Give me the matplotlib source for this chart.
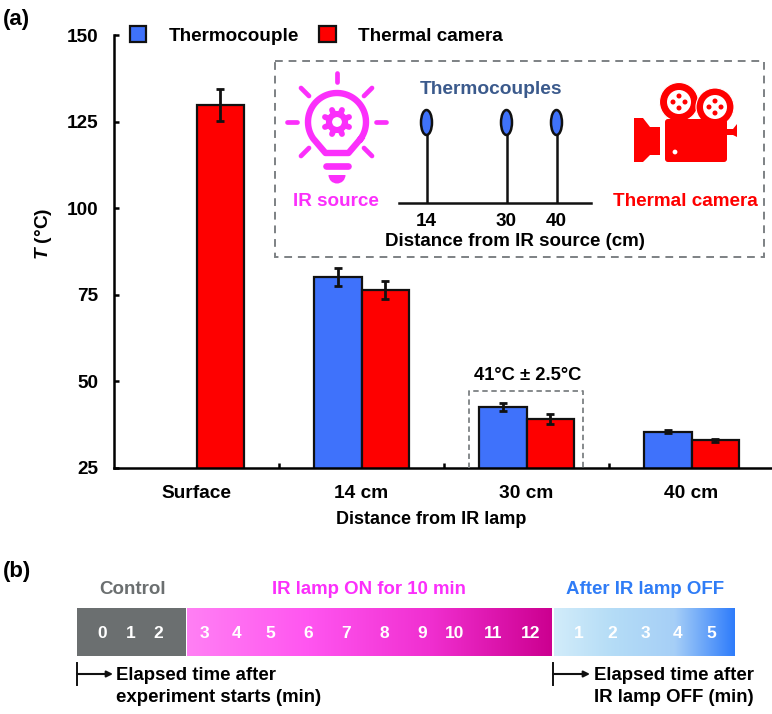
import numpy as np
import matplotlib
matplotlib.use("Agg")
import matplotlib.pyplot as plt
from matplotlib.colors import LinearSegmentedColormap
from matplotlib.patches import Circle, Ellipse, FancyBboxPatch, Polygon, Rectangle, Wedge

plt.rcParams['font.family'] = ['Liberation Sans', 'DejaVu Sans']
plt.rcParams['font.weight'] = 'bold'
plt.rcParams['mathtext.fontset'] = 'custom'
plt.rcParams['mathtext.it'] = 'Liberation Sans:italic:bold'
plt.rcParams['mathtext.rm'] = 'Liberation Sans:bold'

W, H = 772, 714

# bar chart data
categories = ['Surface', '14 cm', '30 cm', '40 cm']
thermocouple = [np.nan, 80.0, 42.7, 35.5]
thermocouple_err = [0, 2.6, 1.2, 0.5]
camera = [129.8, 76.4, 39.1, 33.0]
camera_err = [4.6, 2.6, 1.4, 0.5]
y_ticks = [25, 50, 75, 100, 125, 150]

# inset data
probe_cm = [14, 30, 40]

# timeline data
control_min = [0, 1, 2]
control_x = [102, 130.5, 158.5]
lamp_min = [3, 4, 5, 6, 7, 8, 9, 10, 11, 12]
lamp_x = [204, 237, 270, 308, 346, 384, 422, 455, 493, 531]
after_min = [1, 2, 3, 4, 5]
after_x = [579, 612, 645, 678, 711]

BLUE = '#3f72fb'
RED = '#fe0000'
PINK = '#fb2ffb'
GRAY = '#6b6f70'
DASH = '#7d8184'
INK = '#111111'


def px_axes(x0, y0, x1, y1):
    # axes placed with pixel edges, y measured from the top of the image
    return fig.add_axes([x0 / W, 1 - y1 / H, (x1 - x0) / W, (y1 - y0) / H])


fig = plt.figure(figsize=(W / 100, H / 100), dpi=100)

#############
# Bar chart #
#############
ax = px_axes(114, 35, 774, 468)
x = np.arange(len(categories))
width = 0.288
err_style = dict(ecolor=INK, elinewidth=2.0, capsize=3.0, capthick=2.0)
ax.bar(x - width / 2, thermocouple, width, yerr=thermocouple_err, color=BLUE,
       edgecolor=INK, linewidth=1.6, label='Thermocouple', error_kw=err_style)
ax.bar(x + width / 2, camera, width, yerr=camera_err, color=RED,
       edgecolor=INK, linewidth=1.6, label='Thermal camera', error_kw=err_style)
ax.set_xlim(-0.5, 3.5)
ax.set_ylim(25, 150)
ax.set_yticks(y_ticks)
ax.set_xticks(x[:-1] + 0.5)
ax.set_xticklabels([])
ax.set_xticks(x, categories, minor=True)
ax.tick_params(axis='x', which='minor', length=0, pad=12.5, labelsize=13.8)
ax.tick_params(axis='x', which='major', direction='in', length=3.6, width=1.8)
ax.tick_params(axis='y', direction='in', length=3.6, width=1.8, pad=11, labelsize=13.7)
for side in ('top', 'right'):
    ax.spines[side].set_visible(False)
for side in ('left', 'bottom'):
    ax.spines[side].set_linewidth(1.8)
ax.patch.set_alpha(0)
ax.legend(loc='lower left', bbox_to_anchor=(16 / 660, 0.978), ncol=2, frameon=False,
          fontsize=13.6, handlelength=0.86, handleheight=0.86, handletextpad=1.17,
          columnspacing=1.1, borderpad=0, borderaxespad=0)

# overlay in image pixels for annotations, inset and timeline
ov = fig.add_axes([0, 0, 1, 1], zorder=5)
ov.set_xlim(0, W)
ov.set_ylim(H, 0)
ov.axis('off')
ov.patch.set_alpha(0)

ov.text(3, 20, '(a)', fontsize=16, va='center')
ov.text(3, 572, '(b)', fontsize=16, va='center')
ov.text(44, 234, r'$T$ (°C)', fontsize=13.8, rotation=90, ha='center', va='center')
ov.text(431, 520, 'Distance from IR lamp', fontsize=13, ha='center', va='center')

# range box at 30 cm
ov.plot([469, 469, 583, 583], [468, 391, 391, 468], color=DASH, lw=1.3, ls=(0, (3, 2)))
ov.text(528, 375, '41°C ± 2.5°C', fontsize=13.2, ha='center', va='center')

# inset frame
ov.add_patch(Rectangle((275, 61), 489, 196, fill=False, ec=DASH, lw=1.4, ls=(0, (4, 3))))

# IR source icon
ray_segments = [((337, 73), (337, 82)), ((287, 122), (297, 122)), ((376, 122), (386, 122)),
                ((301, 88), (309, 96)), ((372, 88), (364, 96)),
                ((301, 156), (309, 148)), ((372, 156), (364, 148))]
for a, b in ray_segments:
    ov.plot([a[0], b[0]], [a[1], b[1]], color=PINK, lw=3.4, solid_capstyle='round')
theta = np.radians(np.linspace(-35, 215, 60))
bulb_x = np.r_[337 + 29 * np.cos(theta), 325.5, 348.5, 337 + 29 * np.cos(theta[0])]
bulb_y = np.r_[122 - 29 * np.sin(theta), 153, 153, 122 - 29 * np.sin(theta[0])]
ov.plot(bulb_x, bulb_y, color=PINK, lw=4.6, solid_joinstyle='round')
ov.add_patch(Circle((337, 122), 8, fc='none', ec=PINK, lw=4.4))
for ang in np.arange(0, 360, 45):
    ca, sa = np.cos(np.radians(ang + 22.5)), np.sin(np.radians(ang + 22.5))
    ov.plot([337 + 9 * ca, 337 + 13 * ca], [122 + 9 * sa, 122 + 13 * sa],
            color=PINK, lw=4.2, solid_capstyle='round')
ov.plot([326, 348], [166, 166], color=PINK, lw=4.8, solid_capstyle='round')
ov.add_patch(Wedge((337, 175), 8.5, 0, 180, fc=PINK, ec='none'))
ov.text(336, 202, 'IR source', color=PINK, fontsize=13.6, ha='center', va='center')

# thermocouple positions go through their own small axes
tc = px_axes(399, 99, 591, 203)
tc.set_xlim(14 - 27.5 / 5.0, 14 + 164.5 / 5.0)
tc.set_ylim(0, 1)
tc.patch.set_alpha(0)
tc.set_zorder(6)
for side in ('top', 'left', 'right'):
    tc.spines[side].set_visible(False)
tc.spines['bottom'].set_linewidth(1.8)
tc.spines['bottom'].set_color(INK)
tc.set_yticks([])
tc.set_xticks(probe_cm, [str(v) for v in probe_cm])
tc.tick_params(axis='x', length=0, pad=7, labelsize=13.6)
tc.vlines(probe_cm, 0, 0.66, color=INK, lw=1.8)
for cm in probe_cm:
    tc.add_patch(Ellipse((cm, 0.774), 11 / 5.0, 25 / 104, fc=BLUE, ec=INK, lw=1.8))
ov.text(491, 90, 'Thermocouples', color='#3b5a8c', fontsize=13.8, ha='center', va='center')
ov.text(515, 242, 'Distance from IR source (cm)', fontsize=13.5, ha='center', va='center')

# camera icon
for cx, cy, r in [(679, 102, 19.5), (715, 107, 19)]:
    ov.add_patch(Circle((cx, cy), r, fc=RED, ec='white', lw=0.8))
    ov.add_patch(Circle((cx, cy), 12, fc='white', ec='none'))
    for dx, dy in [(0, -6), (0, 6), (-6, 0), (6, 0)]:
        ov.add_patch(Circle((cx + dx, cy + dy), 2.5, fc=RED, ec='none'))
ov.add_patch(FancyBboxPatch((668, 122), 56, 37, boxstyle='round,pad=3', fc=RED, ec='none'))
ov.add_patch(Polygon([(634, 118), (643, 118), (650, 127), (660, 127), (660, 155), (650, 155),
                      (643, 162), (634, 162)], fc=RED, ec='none'))
ov.add_patch(Polygon([(726, 129), (733, 129), (737, 124), (737, 137), (733, 135), (726, 135)],
                     fc=RED, ec='none'))
ov.add_patch(Circle((675, 152), 2.4, fc='white', ec='none'))
ov.text(685, 202, 'Thermal camera', color=RED, fontsize=13.6, ha='center', va='center')

############
# Timeline #
############
ov.add_patch(Rectangle((77, 608), 109, 48, fc=GRAY, ec='none'))
lamp_cmap = LinearSegmentedColormap.from_list('lamp', ['#ff80f4', '#ff55f0', '#f02fd0', '#cc0090'])
after_cmap = LinearSegmentedColormap.from_list('after', ['#d2ecfa', '#b4dcf6', '#a6cff7', '#2e7cfb'])
grad = np.linspace(0, 1, 256).reshape(1, -1)
ov.imshow(grad, cmap=lamp_cmap, extent=(187, 552, 656, 608), aspect='auto')
ov.imshow(grad, cmap=after_cmap, extent=(554, 735, 656, 608), aspect='auto')
ov.set_xlim(0, W)
ov.set_ylim(H, 0)

for vals, xs in [(control_min, control_x), (lamp_min, lamp_x), (after_min, after_x)]:
    for v, px in zip(vals, xs):
        ov.text(px, 633, str(v), color='white', fontsize=12.5, ha='center', va='center')

ov.text(133, 590, 'Control', color=GRAY, fontsize=13.5, ha='center', va='center')
ov.text(369, 590, 'IR lamp ON for 10 min', color=PINK, fontsize=13.4, ha='center', va='center')
ov.text(645, 590, 'After IR lamp OFF', color='#2f7cf6', fontsize=13.4, ha='center', va='center')

for x0, x1 in [(77, 113), (553, 590)]:
    ov.plot([x0, x0], [663, 685], color=INK, lw=1.4)
    ov.annotate('', xy=(x1, 674), xytext=(x0, 674),
                arrowprops=dict(arrowstyle='-|>', color=INK, lw=1.5, mutation_scale=9,
                                shrinkA=0, shrinkB=0))
ov.text(116, 675, 'Elapsed time after', fontsize=13.4, va='center')
ov.text(116, 698, 'experiment starts (min)', fontsize=13.4, va='center')
ov.text(594, 675, 'Elapsed time after', fontsize=13.4, va='center')
ov.text(594, 698, 'IR lamp OFF (min)', fontsize=13.4, va='center')

fig.savefig('out.png', dpi=100)
